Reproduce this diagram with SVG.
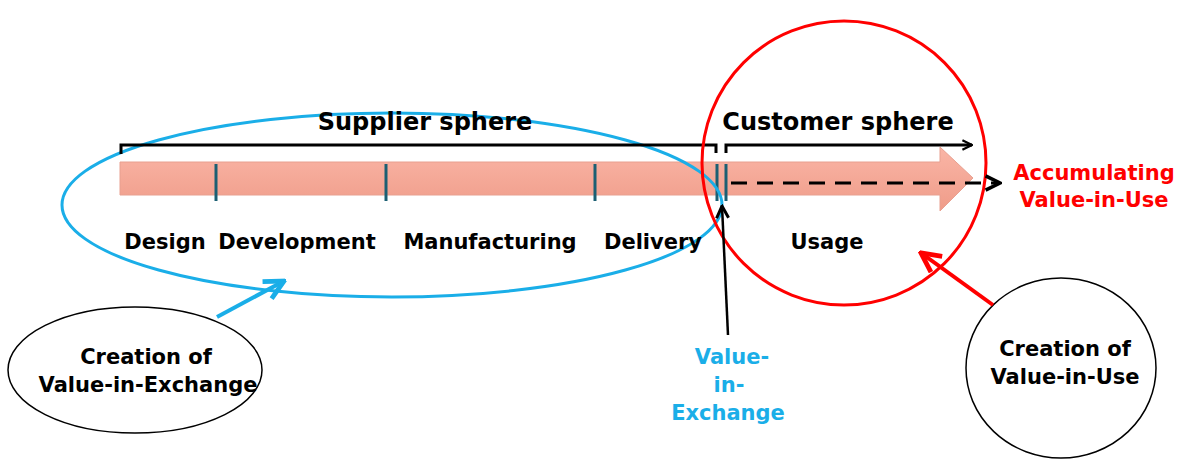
<svg xmlns="http://www.w3.org/2000/svg" width="1182" height="469" viewBox="0 0 1182 469">
<defs>
<linearGradient id="pink" x1="0" y1="0" x2="0" y2="1">
<stop offset="0" stop-color="#fab5a6"/>
<stop offset="1" stop-color="#ef9c89"/>
</linearGradient>
<marker id="ah" viewBox="0 0 10 10" refX="9" refY="5" markerWidth="12" markerHeight="12" markerUnits="userSpaceOnUse" orient="auto">
<path d="M1,1 L9,5 L1,9" fill="none" stroke="#000" stroke-width="1.8"/>
</marker>
<marker id="ahb" viewBox="0 0 10 10" refX="9" refY="5" markerWidth="6" markerHeight="6" orient="auto">
<path d="M1,1 L9,5 L1,9" fill="none" stroke="#1aaee8" stroke-width="2"/>
</marker>
<marker id="ahr" viewBox="0 0 10 10" refX="9" refY="5" markerWidth="6" markerHeight="6" orient="auto">
<path d="M1,1 L9,5 L1,9" fill="none" stroke="#ff0000" stroke-width="2"/>
</marker>
<marker id="ahk" viewBox="0 0 10 10" refX="9" refY="5" markerWidth="6" markerHeight="6" orient="auto">
<path d="M1,1 L9,5 L1,9" fill="none" stroke="#000" stroke-width="2"/>
</marker>
</defs>
<style>
text{font-family:"DejaVu Sans","Liberation Sans",sans-serif;font-weight:bold;text-anchor:middle}
.big{font-size:24px}
.mid{font-size:21px}
.tick{stroke:#1b5f73;stroke-width:3}
.br{fill:none;stroke:#000;stroke-width:3}
</style>
<g id="flow-arrow">
<path d="M120,162 L940,162 L940,147 L973,178 L940,211 L940,195 L120,195 Z" fill="url(#pink)" stroke="#e8a090" stroke-width="1"/>
</g>
<g id="ticks">
<line class="tick" x1="216" y1="164" x2="216" y2="201"/>
<line class="tick" x1="386" y1="164" x2="386" y2="201"/>
<line class="tick" x1="595" y1="164" x2="595" y2="201"/>
<line class="tick" x1="717" y1="164" x2="717" y2="201"/>
<line class="tick" x1="726" y1="164" x2="726" y2="201"/>
</g>
<g id="supplier-sphere">
<ellipse cx="392" cy="205" rx="330" ry="92" fill="none" stroke="#1aaee8" stroke-width="3"/>
<path class="br" d="M121,154 L121,145 L716,145 L716,153"/>
<text class="big" x="425" y="130">Supplier sphere</text>
</g>
<g id="customer-sphere">
<circle cx="844" cy="163" r="142" fill="none" stroke="#ff0000" stroke-width="3"/>
<path class="br" d="M726,153 L726,145 L972,145" marker-end="url(#ah)"/>
<text class="big" x="838" y="130">Customer sphere</text>
</g>
<g id="stages">
<text class="mid" x="165" y="249">Design</text>
<text class="mid" x="297" y="249">Development</text>
<text class="mid" x="490" y="249">Manufacturing</text>
<text class="mid" x="653" y="249">Delivery</text>
<text class="mid" x="827" y="249">Usage</text>
</g>
<g id="accumulating">
<text class="mid" x="1094" y="180" fill="#ff0000">Accumulating</text>
<text class="mid" x="1094" y="207" fill="#ff0000">Value-in-Use</text>
</g>
<g id="value-in-exchange">
<text class="mid" x="732" y="364" fill="#1aaee8">Value-</text>
<text class="mid" x="729" y="392" fill="#1aaee8">in-</text>
<text class="mid" x="728" y="420" fill="#1aaee8">Exchange</text>
</g>
<g id="creation-vie">
<ellipse cx="135" cy="370" rx="127" ry="63" fill="#fff" stroke="#000" stroke-width="1.5"/>
<text class="mid" x="146" y="364">Creation of</text>
<text class="mid" x="148" y="392">Value-in-Exchange</text>
</g>
<g id="creation-viu">
<ellipse cx="1061" cy="368" rx="95" ry="90" fill="#fff" stroke="#000" stroke-width="1.5"/>
<text class="mid" x="1065" y="356">Creation of</text>
<text class="mid" x="1065" y="384">Value-in-Use</text>
</g>
<g id="connectors">
<line x1="731" y1="183" x2="1000" y2="183" stroke="#000" stroke-width="3" stroke-dasharray="16,10" marker-end="url(#ahk)"/>
<line x1="217" y1="317" x2="284" y2="281" stroke="#1aaee8" stroke-width="4" marker-end="url(#ahb)"/>
<line x1="993" y1="305" x2="921" y2="253" stroke="#ff0000" stroke-width="4" marker-end="url(#ahr)"/>
<line x1="728" y1="335" x2="722" y2="206" stroke="#000" stroke-width="2.5" marker-end="url(#ahk)"/>
</g>
</svg>
